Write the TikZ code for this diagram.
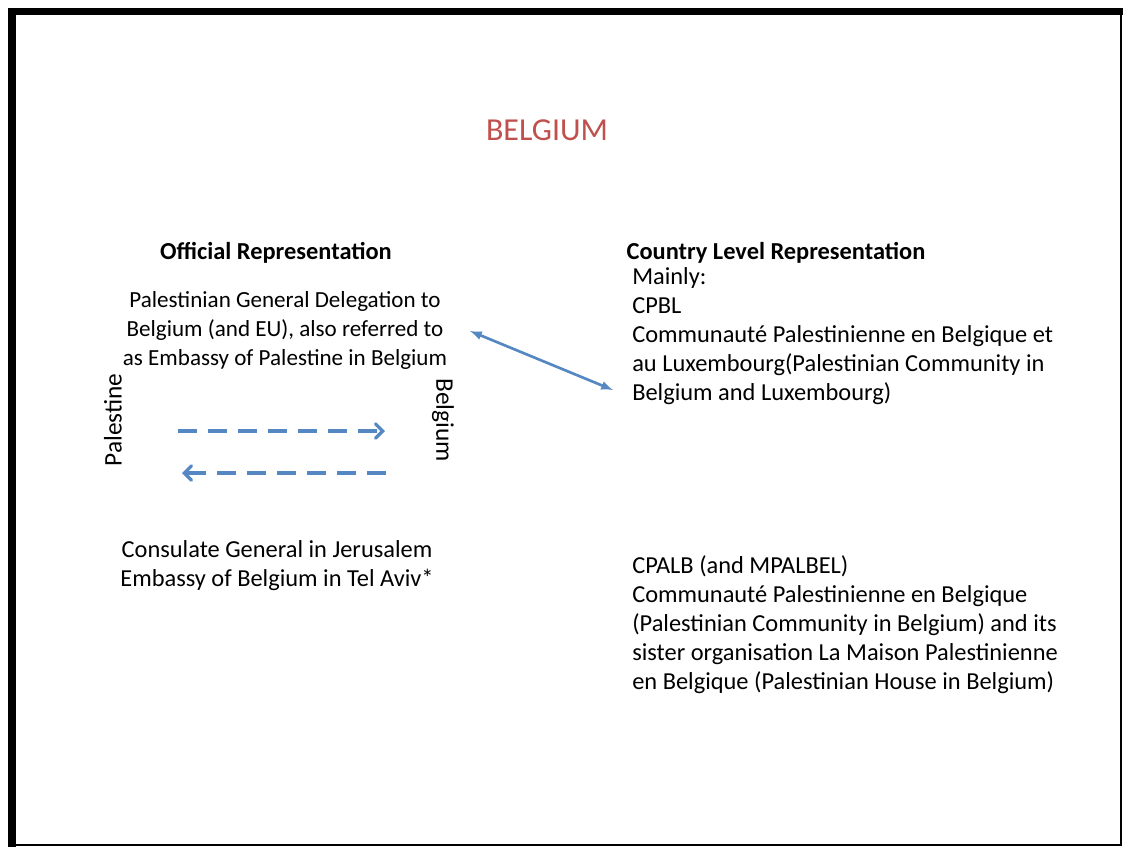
\documentclass[tikz,border=0pt]{standalone}
\usepackage{fontspec}
\setmainfont{Carlito}
\usepackage{tikz}
\usetikzlibrary{shapes,arrows}
\definecolor{slidered}{RGB}{192,80,77}
\definecolor{slideblue}{RGB}{85,135,195}

\begin{document}
\begin{tikzpicture}[x=0.75pt,y=-0.75pt,
  txt/.style={inner sep=0pt,font=\fontsize{18.3}{21.75}\selectfont},
  link/.style={slideblue,line width=2.4pt}]
\useasboundingbox (0,0) rectangle (1123,847);
% frame
\fill[black] (8,8) rectangle (1123,15);
\fill[black] (8,8) rectangle (16,847);
\draw[black,line width=1.2pt] (1121,15) -- (1121,845) -- (16,845);
% titles
\node[txt,font=\fontsize{24}{28}\selectfont,text=slidered] (title) at (547,130) {BELGIUM};
\node[txt,font=\fontsize{18.3}{21.75}\selectfont\bfseries] (offhead) at (276,253) {Official Representation};
\node[txt,font=\fontsize{18.3}{21.75}\selectfont\bfseries] (cnthead) at (776,253) {Country Level Representation};
% left side
\node[txt,font=\fontsize{17.3}{21.75}\selectfont,align=center] (deleg) at (285,330) {Palestinian General Delegation to\\Belgium (and EU), also referred to\\as Embassy of Palestine in Belgium};
\node[txt,font=\fontsize{19}{21.75}\selectfont,rotate=90] (pal) at (113,420) {Palestine};
\node[txt,font=\fontsize{19}{21.75}\selectfont,rotate=-90] (bel) at (443,420) {Belgium};
\node[txt,align=center] (consul) at (277,566) {Consulate General in Jerusalem\\Embassy of Belgium in Tel Aviv*};
% right side
\node[txt,align=left,anchor=west] (cpbl) at (632,336) {Mainly:\\CPBL\\Communauté Palestinienne en Belgique et\\au Luxembourg(Palestinian Community in\\Belgium and Luxembourg)};
\node[txt,align=left,anchor=west] (cpalb) at (632,625) {CPALB (and MPALBEL)\\Communauté Palestinienne en Belgique\\(Palestinian Community in Belgium) and its\\sister organisation La Maison Palestinienne\\en Belgique (Palestinian House in Belgium)};
% arrows
\coordinate (pt1) at (178,431);
\coordinate (bt1) at (385,431);
\coordinate (pt2) at (182,473);
\coordinate (bt2) at (386,473);
\coordinate (dl) at (470,331);
\coordinate (cp) at (613,390);
\draw (pt1) edge [link,dash pattern=on 14pt off 8.5pt,->,>=angle 90] (bt1)
(bt2) edge [link,dash pattern=on 14pt off 8.5pt,->,>=angle 90] (pt2)
(dl) edge [link,line width=2pt,<->,>=latex] (cp);
\end{tikzpicture}
\end{document}
